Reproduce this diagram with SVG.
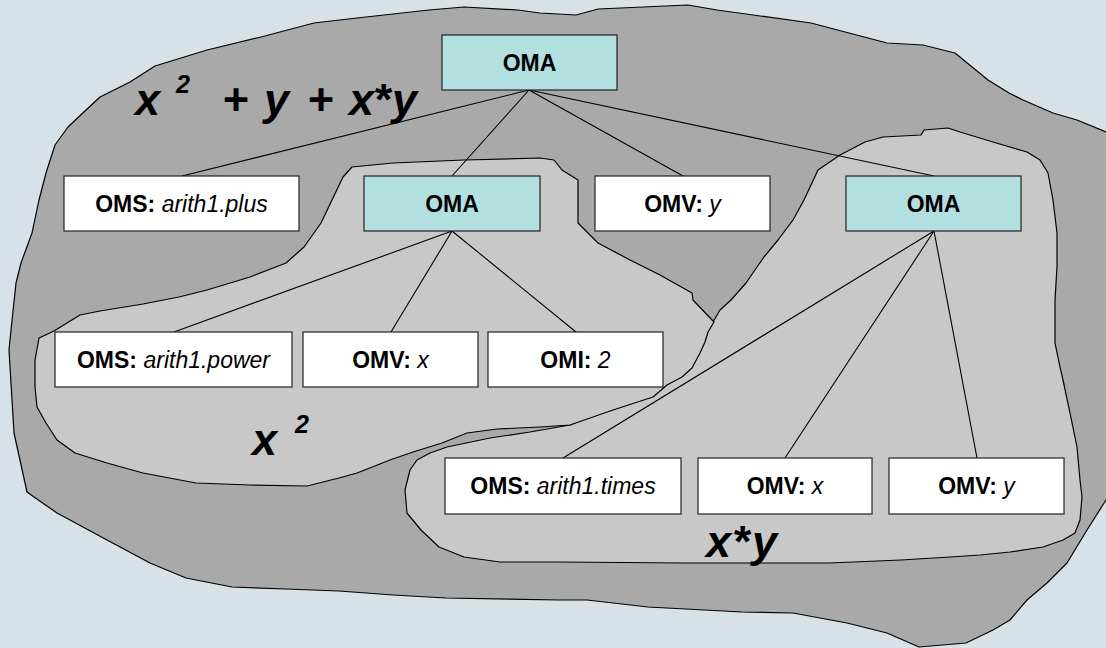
<svg xmlns="http://www.w3.org/2000/svg" width="1106" height="648" viewBox="0 0 1106 648">
  <style>
    .blob { stroke: #000; stroke-width: 1.2; stroke-linejoin: round; }
    .outer { fill: #a9a9a9; }
    .inner { fill: #c8c8c8; }
    .edge { stroke: #000; stroke-width: 1.1; fill: none; }
    .box { stroke: #222; stroke-width: 1.2; }
    .oma { fill: #b2dfe0; }
    .leaf { fill: #ffffff; }
    .lbl { font-family: "Liberation Sans", Arial, sans-serif; font-size: 23px; fill: #000; text-anchor: middle; }
    .b { font-weight: bold; }
    .i { font-style: italic; }
    .big { font-family: "Liberation Sans", Arial, sans-serif; font-weight: bold; font-style: italic; font-size: 45px; fill: #000; }
    .sup { font-size: 25px; }
  </style>

  <rect width="1106" height="648" fill="#d6e2e7"/>

  <!-- whole expression region -->
  <path class="blob outer" d="M11,330 L16,283 L21,263 L32,233 L39,200 L46,173 L55,145 L68,127 L86,110 L100,97 L130,82 L155,66 L207,50 L261,37 L314,23 L357,18 L429,10 L464,7 L518,10 L540,13 L576,15 L598,9 L688,5 L717,10 L811,23 L887,43 L923,45 L955,53 L988,80 L1009,93 L1023,100 L1053,113 L1077,120 L1106,132 L1120,140 L1120,495 L1106,500 L1087,530 L1067,563 L1047,583 L1027,600 L1010,620 L993,630 L966,643 L919,647 L887,633 L847,623 L793,613 L742,612 L648,607 L587,600 L560,600 L446,598 L393,595 L339,591 L286,589 L232,587 L186,578 L150,563 L107,540 L57,513 L34,497 L27,492 L14,433 L9,350 Z"/>

  <!-- x*y sub-expression region -->
  <path class="blob inner" d="M713,322 L720,310 L731,300 L746,283 L757,267 L764,257 L778,240 L793,220 L804,200 L818,170 L840,155 L865,142 L883,137 L921,135 L924,130 L948,128 L960,132 L993,142 L1027,152 L1040,160 L1048,173 L1053,200 L1057,233 L1057,267 L1055,300 L1055,343 L1060,367 L1063,380 L1070,413 L1077,447 L1080,480 L1082,497 L1080,520 L1075,533 L1063,540 L1043,547 L1010,552 L980,555 L950,557 L901,560 L829,563 L757,563 L684,563 L560,562 L500,562 L464,557 L439,547 L421,530 L407,513 L405,490 L410,470 L417,460 L430,453 L447,447 L490,438 L530,432 L570,425 L640,395 L690,350 Z"/>

  <!-- x^2 sub-expression region -->
  <path class="blob inner" d="M352,167 L393,163 L464,160 L540,158 L554,160 L562,170 L578,180 L578,223 L598,243 L630,260 L660,275 L692,293 L693,300 L714,322 L708,332 L705,342 L700,353 L692,368 L682,377 L667,385 L653,397 L613,410 L570,425 L540,427 L497,429 L467,433 L442,443 L413,452 L390,460 L357,473 L339,478 L307,486 L250,485 L196,483 L143,473 L107,463 L75,453 L57,440 L46,423 L37,407 L35,387 L35,360 L39,338 L54,331 L80,315 L100,311 L143,304 L179,297 L207,290 L250,277 L286,263 L304,247 L321,223 L332,200 L343,177 Z"/>

  <g id="connectors">
    <path class="edge" d="M529,90 L182,176 M529,90 L452,176 M529,90 L683,176 M529,90 L934,176"/>
    <path class="edge" d="M452,231 L174,332 M452,231 L391,332 M452,231 L576,332"/>
    <path class="edge" d="M934,231 L563,458 M934,231 L785,458 M934,231 L977,458"/>
  </g>

  <g id="oma-root">
    <rect class="box oma" x="442" y="35" width="175" height="55"/>
    <text class="lbl b" x="529.5" y="70.5">OMA</text>
  </g>
  <g id="oms-plus">
    <rect class="box leaf" x="64" y="176" width="235" height="55"/>
    <text class="lbl" x="181.5" y="211.5"><tspan class="b">OMS: </tspan><tspan class="i">arith1.plus</tspan></text>
  </g>
  <g id="oma-power">
    <rect class="box oma" x="364" y="176" width="176" height="55"/>
    <text class="lbl b" x="452" y="211.5">OMA</text>
  </g>
  <g id="omv-y-top">
    <rect class="box leaf" x="595" y="176" width="175" height="55"/>
    <text class="lbl" x="682.5" y="211.5"><tspan class="b">OMV: </tspan><tspan class="i">y</tspan></text>
  </g>
  <g id="oma-times">
    <rect class="box oma" x="846" y="176" width="175" height="55"/>
    <text class="lbl b" x="933.5" y="211.5">OMA</text>
  </g>
  <g id="oms-power">
    <rect class="box leaf" x="55" y="332" width="237" height="55"/>
    <text class="lbl" x="173.5" y="367.5"><tspan class="b">OMS: </tspan><tspan class="i">arith1.power</tspan></text>
  </g>
  <g id="omv-x-power">
    <rect class="box leaf" x="303" y="332" width="175" height="55"/>
    <text class="lbl" x="390.5" y="367.5"><tspan class="b">OMV: </tspan><tspan class="i">x</tspan></text>
  </g>
  <g id="omi-2">
    <rect class="box leaf" x="488" y="332" width="175" height="55"/>
    <text class="lbl" x="575.5" y="367.5"><tspan class="b">OMI: </tspan><tspan class="i">2</tspan></text>
  </g>
  <g id="oms-times">
    <rect class="box leaf" x="445" y="458" width="236" height="56"/>
    <text class="lbl" x="563" y="494"><tspan class="b">OMS: </tspan><tspan class="i">arith1.times</tspan></text>
  </g>
  <g id="omv-x-times">
    <rect class="box leaf" x="698" y="458" width="174" height="56"/>
    <text class="lbl" x="785" y="494"><tspan class="b">OMV: </tspan><tspan class="i">x</tspan></text>
  </g>
  <g id="omv-y-times">
    <rect class="box leaf" x="889" y="458" width="175" height="56"/>
    <text class="lbl" x="976.5" y="494"><tspan class="b">OMV: </tspan><tspan class="i">y</tspan></text>
  </g>

  <!-- expression captions -->
  <text class="big" x="135" y="115">x<tspan class="sup" x="176" y="93">2</tspan><tspan x="222 252 264 295 307 337 349 373 392" y="115">+ y + x*y</tspan></text>
  <text class="big" x="252" y="455">x<tspan class="sup" x="295" y="433">2</tspan></text>
  <text class="big" x="706 732 752" y="557">x*y</text>
</svg>
